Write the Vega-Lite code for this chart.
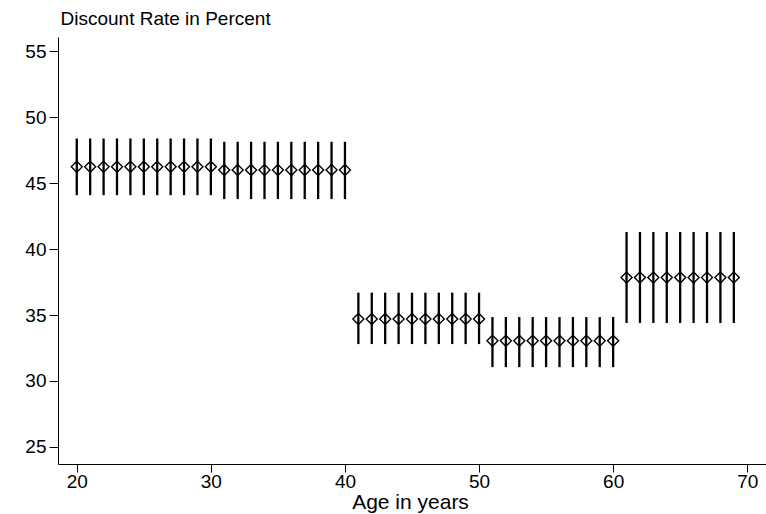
{
  "$schema": "https://vega.github.io/schema/vega-lite/v6.json",
  "autosize": "none",
  "width": 708,
  "height": 427,
  "padding": {"left": 58, "top": 37, "right": 0, "bottom": 50},
  "background": "white",
  "config": {
    "view": {"stroke": null},
    "font": "Liberation Sans",
    "axis": {
      "grid": false,
      "domainColor": "#000000",
      "domainWidth": 1,
      "tickColor": "#000000",
      "tickWidth": 1,
      "labelColor": "#000000",
      "titleColor": "#000000",
      "labelFont": "Liberation Sans",
      "titleFont": "Liberation Sans",
      "labelFontSize": 19,
      "titleFontSize": 19,
      "titleFontWeight": "normal"
    }
  },
  "data": {
    "values": [
      {"age": 20, "est": 46.25, "lo": 44.1, "hi": 48.4},
      {"age": 21, "est": 46.25, "lo": 44.1, "hi": 48.4},
      {"age": 22, "est": 46.25, "lo": 44.1, "hi": 48.4},
      {"age": 23, "est": 46.25, "lo": 44.1, "hi": 48.4},
      {"age": 24, "est": 46.25, "lo": 44.1, "hi": 48.4},
      {"age": 25, "est": 46.25, "lo": 44.1, "hi": 48.4},
      {"age": 26, "est": 46.25, "lo": 44.1, "hi": 48.4},
      {"age": 27, "est": 46.25, "lo": 44.1, "hi": 48.4},
      {"age": 28, "est": 46.25, "lo": 44.1, "hi": 48.4},
      {"age": 29, "est": 46.25, "lo": 44.1, "hi": 48.4},
      {"age": 30, "est": 46.25, "lo": 44.1, "hi": 48.4},
      {"age": 31, "est": 46.0, "lo": 43.8, "hi": 48.15},
      {"age": 32, "est": 46.0, "lo": 43.8, "hi": 48.15},
      {"age": 33, "est": 46.0, "lo": 43.8, "hi": 48.15},
      {"age": 34, "est": 46.0, "lo": 43.8, "hi": 48.15},
      {"age": 35, "est": 46.0, "lo": 43.8, "hi": 48.15},
      {"age": 36, "est": 46.0, "lo": 43.8, "hi": 48.15},
      {"age": 37, "est": 46.0, "lo": 43.8, "hi": 48.15},
      {"age": 38, "est": 46.0, "lo": 43.8, "hi": 48.15},
      {"age": 39, "est": 46.0, "lo": 43.8, "hi": 48.15},
      {"age": 40, "est": 46.0, "lo": 43.8, "hi": 48.15},
      {"age": 41, "est": 34.7, "lo": 32.8, "hi": 36.7},
      {"age": 42, "est": 34.7, "lo": 32.8, "hi": 36.7},
      {"age": 43, "est": 34.7, "lo": 32.8, "hi": 36.7},
      {"age": 44, "est": 34.7, "lo": 32.8, "hi": 36.7},
      {"age": 45, "est": 34.7, "lo": 32.8, "hi": 36.7},
      {"age": 46, "est": 34.7, "lo": 32.8, "hi": 36.7},
      {"age": 47, "est": 34.7, "lo": 32.8, "hi": 36.7},
      {"age": 48, "est": 34.7, "lo": 32.8, "hi": 36.7},
      {"age": 49, "est": 34.7, "lo": 32.8, "hi": 36.7},
      {"age": 50, "est": 34.7, "lo": 32.8, "hi": 36.7},
      {"age": 51, "est": 33.05, "lo": 31.05, "hi": 34.85},
      {"age": 52, "est": 33.05, "lo": 31.05, "hi": 34.85},
      {"age": 53, "est": 33.05, "lo": 31.05, "hi": 34.85},
      {"age": 54, "est": 33.05, "lo": 31.05, "hi": 34.85},
      {"age": 55, "est": 33.05, "lo": 31.05, "hi": 34.85},
      {"age": 56, "est": 33.05, "lo": 31.05, "hi": 34.85},
      {"age": 57, "est": 33.05, "lo": 31.05, "hi": 34.85},
      {"age": 58, "est": 33.05, "lo": 31.05, "hi": 34.85},
      {"age": 59, "est": 33.05, "lo": 31.05, "hi": 34.85},
      {"age": 60, "est": 33.05, "lo": 31.05, "hi": 34.85},
      {"age": 61, "est": 37.85, "lo": 34.4, "hi": 41.3},
      {"age": 62, "est": 37.85, "lo": 34.4, "hi": 41.3},
      {"age": 63, "est": 37.85, "lo": 34.4, "hi": 41.3},
      {"age": 64, "est": 37.85, "lo": 34.4, "hi": 41.3},
      {"age": 65, "est": 37.85, "lo": 34.4, "hi": 41.3},
      {"age": 66, "est": 37.85, "lo": 34.4, "hi": 41.3},
      {"age": 67, "est": 37.85, "lo": 34.4, "hi": 41.3},
      {"age": 68, "est": 37.85, "lo": 34.4, "hi": 41.3},
      {"age": 69, "est": 37.85, "lo": 34.4, "hi": 41.3}
    ]
  },
  "encoding": {
    "x": {
      "field": "age",
      "type": "quantitative",
      "scale": {"domain": [18.6, 71.4], "nice": false, "zero": false},
      "axis": {
        "values": [20, 30, 40, 50, 60, 70],
        "tickSize": 8,
        "labelPadding": 0,
        "labelFontSize": 19,
        "title": "Age in years",
        "titleFontSize": 21,
        "titlePadding": 0,
        "titleX": 352
      }
    }
  },
  "layer": [
    {
      "mark": {"type": "rule", "color": "#000000", "strokeWidth": 2.3},
      "encoding": {
        "y": {
          "field": "lo",
          "type": "quantitative",
          "scale": {"domain": [23.7, 56.1], "nice": false, "zero": false},
          "axis": {
            "values": [25, 30, 35, 40, 45, 50, 55],
            "tickSize": 9,
            "labelPadding": 3,
            "title": "Discount Rate in Percent",
            "titleAngle": 0,
            "titleAlign": "left",
            "titleBaseline": "alphabetic",
            "titleX": 2,
            "titleY": -13
          }
        },
        "y2": {"field": "hi"}
      }
    },
    {
      "mark": {"type": "point", "shape": "diamond", "filled": false, "color": "#000000", "size": 121, "strokeWidth": 1.4, "opacity": 1},
      "encoding": {
        "y": {"field": "est", "type": "quantitative"}
      }
    }
  ]
}
